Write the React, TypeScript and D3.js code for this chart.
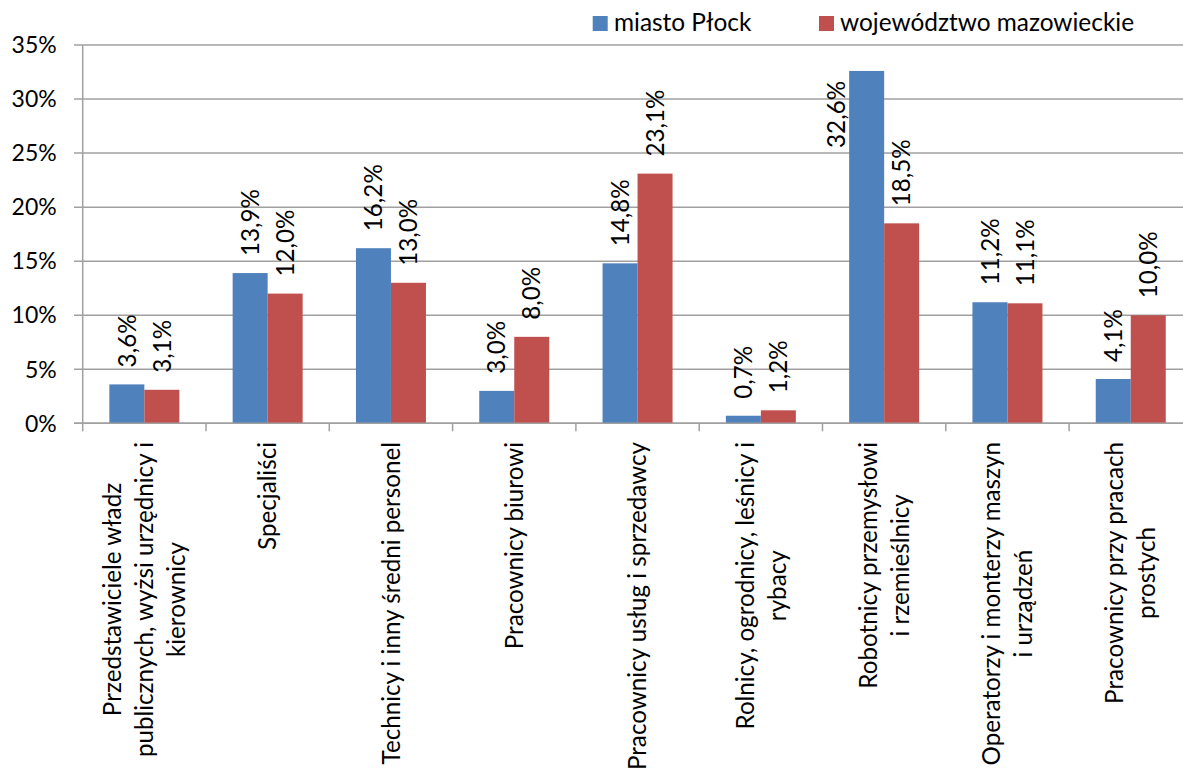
import React, { useEffect, useRef } from "react";
import * as d3 from "d3";

const categories: string[][] = [
  ["Przedstawiciele władz", "publicznych, wyżsi urzędnicy i", "kierownicy"],
  ["Specjaliści"],
  ["Technicy i inny średni personel"],
  ["Pracownicy biurowi"],
  ["Pracownicy usług i sprzedawcy"],
  ["Rolnicy, ogrodnicy, leśnicy i", "rybacy"],
  ["Robotnicy przemysłowi", "i rzemieślnicy"],
  ["Operatorzy i monterzy maszyn", "i urządzeń"],
  ["Pracownicy przy pracach", "prostych"],
];
const seriesNames = ["miasto Płock", "województwo mazowieckie"];
const plockValues = [3.6, 13.9, 16.2, 3.0, 14.8, 0.7, 32.6, 11.2, 4.1];
const mazowieckieValues = [3.1, 12.0, 13.0, 8.0, 23.1, 1.2, 18.5, 11.1, 10.0];
const yTicks = [0, 5, 10, 15, 20, 25, 30, 35];
const colors = ["#4F81BD", "#C0504D"];

const W = 1183;
const H = 772;
const FONT = "Lato, 'Open Sans', sans-serif";
const FS_TICK = 23;
const FS = 24.2;
const FS_LEGEND = 24.4;

export default function App() {
  const ref = useRef<SVGSVGElement | null>(null);

  useEffect(() => {
    document.body.style.margin = "0";
    const svg = d3.select(ref.current);
    svg.selectAll("*").remove();

    const left = 82.7;
    const catW = 123.3;
    const right = left + catW * categories.length;
    const top = 45;
    const bottom = 423.3;
    const gridColor = "#a0a0a0";

    const x = d3
      .scaleBand<number>()
      .domain(d3.range(categories.length))
      .range([left, right])
      .paddingInner(0)
      .paddingOuter(0);
    const y = d3.scaleLinear().domain([0, 35]).range([bottom, top]);
    const barW = 35;
    const gap = catW - 2 * barW;

    const g = svg.append("g");

    // gridlines + y ticks
    yTicks.forEach((t) => {
      g.append("line")
        .attr("x1", left - 8.7)
        .attr("x2", right)
        .attr("y1", y(t))
        .attr("y2", y(t))
        .attr("stroke", gridColor)
        .attr("stroke-width", 1.5);
      g.append("text")
        .attr("x", 56.7)
        .attr("y", y(t))
        .attr("dy", "0.36em")
        .attr("text-anchor", "end")
        .attr("font-family", FONT)
        .attr("font-size", FS_TICK)
        .attr("fill", "#000")
        .text(`${t}%`);
    });

    // y axis line
    g.append("line")
      .attr("x1", left)
      .attr("x2", left)
      .attr("y1", top)
      .attr("y2", bottom)
      .attr("stroke", gridColor)
      .attr("stroke-width", 1.5);

    // x ticks
    d3.range(categories.length + 1).forEach((i) => {
      const xx = left + i * catW;
      g.append("line")
        .attr("x1", xx)
        .attr("x2", xx)
        .attr("y1", bottom)
        .attr("y2", bottom + 8)
        .attr("stroke", gridColor)
        .attr("stroke-width", 1.5);
    });

    const series = [plockValues, mazowieckieValues];
    series.forEach((vals, si) => {
      vals.forEach((v, i) => {
        const bx = (x(i) as number) + gap / 2 + si * barW;
        g.append("rect")
          .attr("x", bx)
          .attr("y", y(v))
          .attr("width", barW)
          .attr("height", bottom - y(v))
          .attr("fill", colors[si]);
      });
    });

    // x axis line on top of bars
    g.append("line")
      .attr("x1", left - 8.7)
      .attr("x2", right)
      .attr("y1", bottom)
      .attr("y2", bottom)
      .attr("stroke", gridColor)
      .attr("stroke-width", 1.5);

    // value labels
    series.forEach((vals, si) => {
      vals.forEach((v, i) => {
        const bx = (x(i) as number) + gap / 2 + si * barW;
        const cx = bx + barW / 2;
        const label = `${v.toFixed(1).replace(".", ",")}%`;
        const t = g
          .append("text")
          .attr("font-family", FONT)
          .attr("font-size", FS)
          .attr("fill", "#000")
          .attr("text-anchor", "start")
          .attr("dy", "0.36em")
          .text(label);
        const len = (t.node() as SVGTextElement).getComputedTextLength();
        let startY = y(v) - 17;
        let lx = cx;
        if (startY - len < top) {
          // does not fit above: place beside the bar, to the left
          startY = y(v) + 10 + len;
          lx = bx - 12.7;
        }
        t.attr("transform", `translate(${lx},${startY}) rotate(-90)`);
      });
    });

    // category labels
    const lineH = 32;
    categories.forEach((lines, i) => {
      const cx = (x(i) as number) + catW / 2;
      const grp = g.append("g");
      const texts = lines.map((ln) =>
        grp
          .append("text")
          .attr("font-family", FONT)
          .attr("font-size", FS)
          .attr("fill", "#000")
          .attr("text-anchor", "middle")
          .text(ln)
      );
      const maxLen = d3.max(texts.map((t) => (t.node() as SVGTextElement).getComputedTextLength())) || 0;
      const centerY = 442 + maxLen / 2;
      const n = lines.length;
      texts.forEach((t, k) => {
        const off = (k - (n - 1) / 2) * lineH;
        t.attr("transform", `translate(${cx + off},${centerY}) rotate(-90)`).attr("dy", "0.36em");
      });
    });

    // legend
    const legendItems = [
      { sx: 592.7, tx: 614 },
      { sx: 819, tx: 840 },
    ];
    seriesNames.forEach((name, si) => {
      g.append("rect")
        .attr("x", legendItems[si].sx)
        .attr("y", 16)
        .attr("width", 15)
        .attr("height", 15)
        .attr("fill", colors[si]);
      g.append("text")
        .attr("x", legendItems[si].tx)
        .attr("y", 30.5)
        .attr("font-family", FONT)
        .attr("font-size", FS_LEGEND)
        .attr("fill", "#000")
        .text(name);
    });
  }, []);

  return (
    <svg
      ref={ref}
      width={W}
      height={H}
      style={{ position: "absolute", left: 0, top: 0, background: "#fff" }}
    />
  );
}
